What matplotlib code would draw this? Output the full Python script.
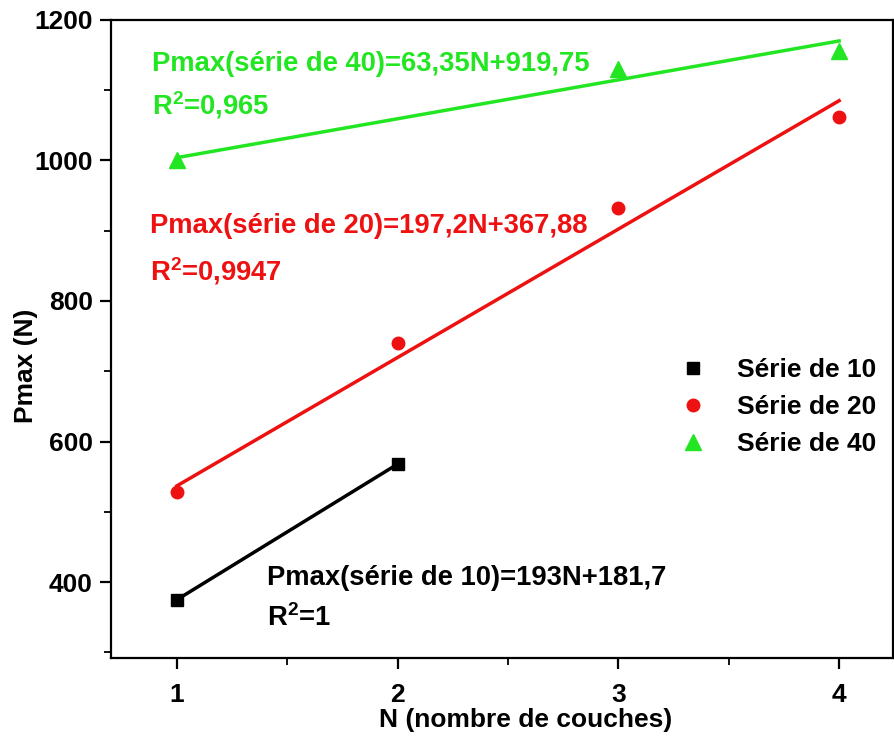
import matplotlib
matplotlib.use("Agg")
import matplotlib.pyplot as plt
from matplotlib.ticker import MultipleLocator

plt.rcParams['font.family'] = ['Liberation Sans', 'DejaVu Sans']
plt.rcParams['font.weight'] = 'bold'
plt.rcParams['mathtext.fontset'] = 'custom'
plt.rcParams['mathtext.rm'] = 'Liberation Sans:bold'
plt.rcParams['mathtext.default'] = 'rm'

# Data
n10 = [1, 2]
p10 = [375, 568]
n20 = [1, 2, 3, 4]
p20 = [528, 740, 932, 1062]
n40 = [1, 3, 4]
p40 = [1001, 1130, 1156]

# Fitted lines (endpoints)
fit10_n = [1, 2]
fit10_p = [375, 568]
fit20_n = [1, 4]
fit20_p = [537, 1085]
fit40_n = [1, 4]
fit40_p = [1004, 1170]

labels = ['Série de 10', 'Série de 20', 'Série de 40']
eq10 = ['Pmax(série de 10)=193N+181,7', 'R$^2$=1']
eq20 = ['Pmax(série de 20)=197,2N+367,88', 'R$^2$=0,9947']
eq40 = ['Pmax(série de 40)=63,35N+919,75', 'R$^2$=0,965']

black = '#000000'
red = '#ee1111'
green = '#22e622'

fs = 19
fa = 19.7

fig = plt.figure(figsize=(8.95, 7.36), dpi=100)
ax = fig.add_axes([0.124, 0.106, 0.874, 0.867])

ax.plot(fit10_n, fit10_p, color=black, lw=2.5)
ax.plot(fit20_n, fit20_p, color=red, lw=2.5)
ax.plot(fit40_n, fit40_p, color=green, lw=2.5)

ax.plot(n10, p10, 's', color=black, ms=8, ls='none', label=labels[0])
ax.plot(n20, p20, 'o', color=red, ms=9, ls='none', label=labels[1])
ax.plot(n40, p40, '^', color=green, ms=11, ls='none', label=labels[2])

ax.set_xlim(0.701, 4.245)
ax.set_ylim(292, 1200)

ax.xaxis.set_major_locator(MultipleLocator(1))
ax.xaxis.set_minor_locator(MultipleLocator(0.5))
ax.yaxis.set_major_locator(MultipleLocator(200))
ax.yaxis.set_minor_locator(MultipleLocator(100))
ax.tick_params(which='major', direction='out', length=8, width=1.6, labelsize=fs)
ax.tick_params(which='minor', direction='out', length=5, width=1.3)
ax.tick_params(axis='x', pad=10)
ax.tick_params(axis='y', pad=5)
for lab in ax.get_xticklabels() + ax.get_yticklabels():
    lab.set_fontweight('bold')
for s in ax.spines.values():
    s.set_linewidth(1.6)

ax.set_xlabel('N (nombre de couches)', fontsize=fs, fontweight='bold')
ax.set_ylabel('Pmax (N)', fontsize=fs, fontweight='bold')
ax.xaxis.set_label_coords(0.53, -0.079)
ax.yaxis.set_label_coords(-0.093, 0.458)

ax.text(0.053, 0.931, eq40[0], transform=ax.transAxes, color=green, fontsize=fa, fontweight='bold', va='center')
ax.text(0.053, 0.867, eq40[1], transform=ax.transAxes, color=green, fontsize=fa, fontweight='bold', va='center')
ax.text(0.050, 0.677, eq20[0], transform=ax.transAxes, color=red, fontsize=fa, fontweight='bold', va='center')
ax.text(0.050, 0.607, eq20[1], transform=ax.transAxes, color=red, fontsize=fa, fontweight='bold', va='center')
ax.text(0.199, 0.125, eq10[0], transform=ax.transAxes, color=black, fontsize=fa, fontweight='bold', va='center')
ax.text(0.199, 0.063, eq10[1], transform=ax.transAxes, color=black, fontsize=fa, fontweight='bold', va='center')

leg = ax.legend(loc='upper left', bbox_to_anchor=(0.73, 0.47), frameon=False, fontsize=fs,
                handlelength=0.8, handletextpad=1.3, labelspacing=0.5, borderaxespad=0,
                borderpad=0)
for t in leg.get_texts():
    t.set_fontweight('bold')

fig.savefig('out.png', dpi=100)
